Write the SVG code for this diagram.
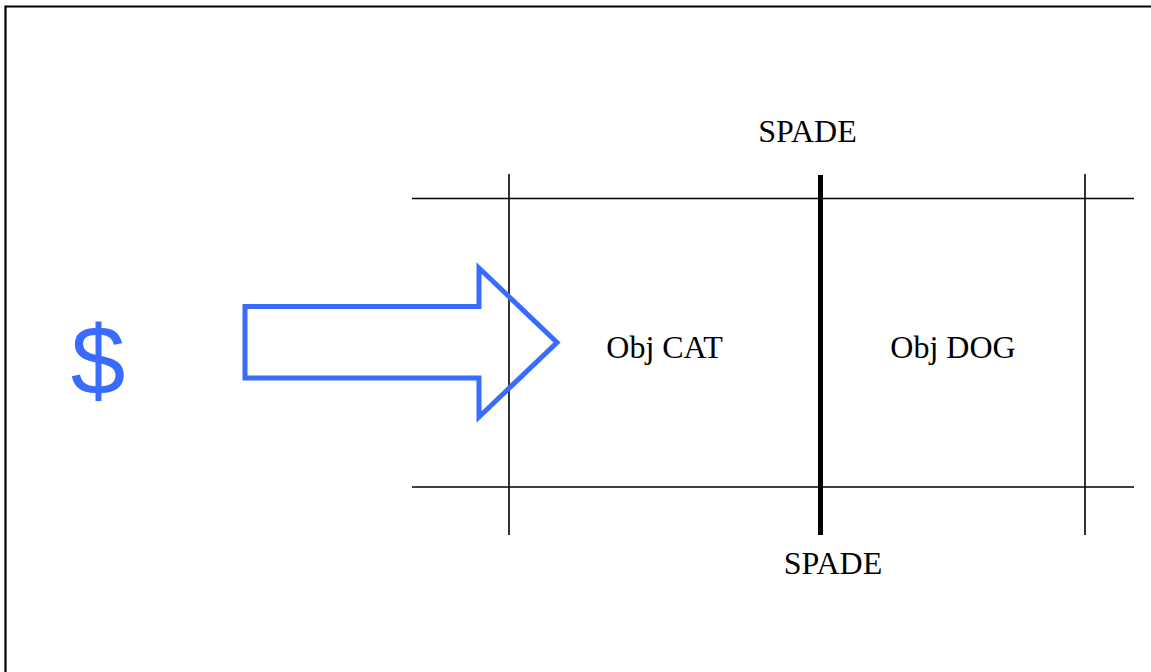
<svg xmlns="http://www.w3.org/2000/svg" width="1151" height="672" viewBox="0 0 1151 672">
<style>
.thin{stroke:#000;stroke-width:1.6;fill:none}
.thick{stroke:#000;stroke-width:5;fill:none}
.lbl{font-family:"Liberation Serif","Times New Roman",serif;font-size:32px;fill:#000;text-anchor:middle}
.blue{fill:none;stroke:#3a6bff;stroke-width:5}
</style>
<rect width="1151" height="672" fill="#fff"/>
<path d="M5.5 672 V6.5 H1151" stroke="#000" stroke-width="2.2" fill="none"/>
<g id="connectors">
<line class="thin" x1="412" y1="198.5" x2="1134" y2="198.5"/>
<line class="thin" x1="412" y1="487" x2="1134" y2="487"/>
<line class="thin" x1="509" y1="174" x2="509" y2="535"/>
<line class="thick" x1="820.5" y1="175" x2="820.5" y2="535"/>
<line class="thin" x1="1085" y1="174" x2="1085" y2="535"/>
</g>
<g id="spade-top"><text class="lbl" x="807.5" y="142">SPADE</text></g>
<g id="spade-bottom"><text class="lbl" x="833" y="574">SPADE</text></g>
<g id="obj-cat"><text class="lbl" x="664.5" y="358">Obj CAT</text></g>
<g id="obj-dog"><text class="lbl" x="953" y="358">Obj DOG</text></g>
<g id="dollar"><text x="98" y="394" font-family="Liberation Sans, Arial, sans-serif" font-size="98" fill="#3a6bff" text-anchor="middle">$</text></g>
<g id="arrow"><polygon class="blue" points="245,306.5 479,306.5 479,268 557,342.5 479,417 479,378 245,378"/></g>
</svg>
